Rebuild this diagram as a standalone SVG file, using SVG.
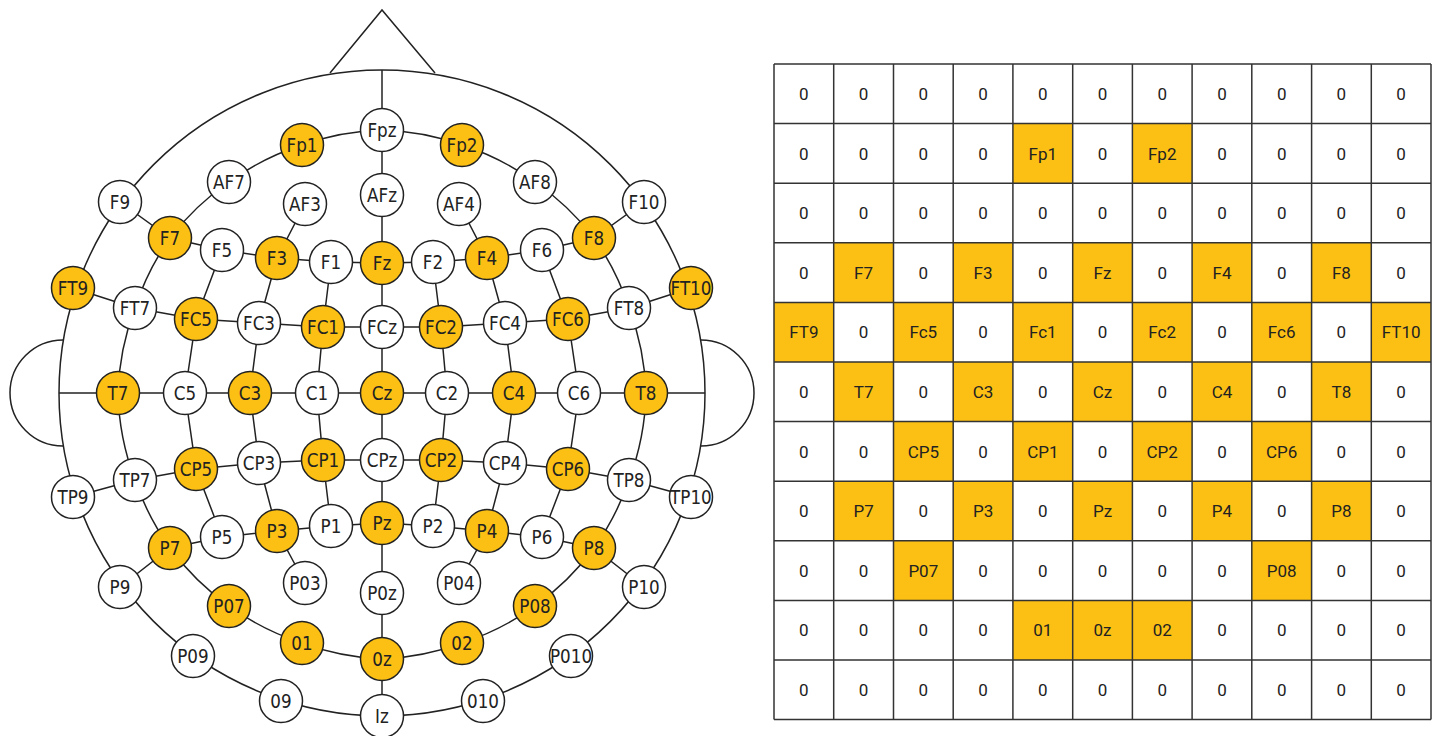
<svg xmlns="http://www.w3.org/2000/svg" width="1437" height="736" viewBox="0 0 1437 736">
<style>
.ln{fill:none;stroke:#222;stroke-width:1.5}
.node circle{fill:#fff;stroke:#222;stroke-width:1.5}
.node.hl circle{fill:#FBC013}
.node text{font-family:"DejaVu Sans",sans-serif;font-size:19.5px;fill:#222;text-anchor:middle;transform-box:fill-box;transform-origin:center;transform:scaleX(0.86)}
.cell{fill:#FBC013;stroke:none}
.grid{fill:none;stroke:#333;stroke-width:1.5}
.mt{font-family:Roboto,"Liberation Sans",sans-serif;font-size:17px;fill:#222;text-anchor:middle}
</style>
<rect width="1437" height="736" fill="#fff"/>
<g id="connectors">
<polyline class="ln" points="330,73 382,10 435,73"/>
<circle class="ln" cx="382" cy="393" r="323"/>
<path class="ln" d="M63,340 A53,53 0 1 0 63,446"/>
<path class="ln" d="M701,340 A53,53 0 1 1 701,446"/>
<path class="ln" d="M382,130 A263,263 0 0 1 462,145 A263,263 0 0 1 535,182 A263,263 0 0 1 594,238 A263,263 0 0 1 629,308 A263,263 0 0 1 646,393 A263,263 0 0 1 629,480 A263,263 0 0 1 594,548 A263,263 0 0 1 535,606 A263,263 0 0 1 462,643 A263,263 0 0 1 382,659 A263,263 0 0 1 302,643 A263,263 0 0 1 229,606 A263,263 0 0 1 170,548 A263,263 0 0 1 135,480 A263,263 0 0 1 118,393 A263,263 0 0 1 135,308 A263,263 0 0 1 170,238 A263,263 0 0 1 229,182 A263,263 0 0 1 302,145 A263,263 0 0 1 382,130"/>
<line class="ln" x1="382" y1="70" x2="382" y2="716"/>
<line class="ln" x1="59" y1="393" x2="705" y2="393"/>
<polyline class="ln" points="120,202 170,238 222,250 277,258 331,262 382,263 433,262 487,258 542,250 594,238 644,202"/>
<polyline class="ln" points="73,288 135,308 196,319 259,323 323,327 382,327 441,327 505,323 568,319 629,308 691,288"/>
<polyline class="ln" points="73,497 135,480 196,469 259,463 323,460 382,460 441,460 505,463 568,469 629,480 691,497"/>
<polyline class="ln" points="120,587 170,548 222,537 277,531 331,526 382,523 433,526 487,531 542,537 594,548 644,587"/>
<polyline class="ln" points="305,204 277,258 259,323 250,393 259,463 277,531 305,583"/>
<polyline class="ln" points="459,204 487,258 505,323 514,393 505,463 487,531 459,583"/>
<polyline class="ln" points="331,262 323,327 317,393 323,460 331,526"/>
<polyline class="ln" points="433,262 441,327 447,393 441,460 433,526"/>
<polyline class="ln" points="222,250 196,319 185,393 196,469 222,537"/>
<polyline class="ln" points="542,250 568,319 579,393 568,469 542,537"/>
</g>
<g id="n-Fpz" class="node"><circle cx="382" cy="130" r="21.5"/><text x="382" y="137">Fpz</text></g>
<g id="n-Fp1" class="node hl"><circle cx="302" cy="145" r="21.5"/><text x="302" y="152">Fp1</text></g>
<g id="n-Fp2" class="node hl"><circle cx="462" cy="145" r="21.5"/><text x="462" y="152">Fp2</text></g>
<g id="n-AF7" class="node"><circle cx="229" cy="182" r="21.5"/><text x="229" y="189">AF7</text></g>
<g id="n-AF8" class="node"><circle cx="535" cy="182" r="21.5"/><text x="535" y="189">AF8</text></g>
<g id="n-AFz" class="node"><circle cx="382" cy="195" r="21.5"/><text x="382" y="202">AFz</text></g>
<g id="n-AF3" class="node"><circle cx="305" cy="204" r="21.5"/><text x="305" y="211">AF3</text></g>
<g id="n-AF4" class="node"><circle cx="459" cy="204" r="21.5"/><text x="459" y="211">AF4</text></g>
<g id="n-F9" class="node"><circle cx="120" cy="202" r="21.5"/><text x="120" y="209">F9</text></g>
<g id="n-F10" class="node"><circle cx="644" cy="202" r="21.5"/><text x="644" y="209">F10</text></g>
<g id="n-F7" class="node hl"><circle cx="170" cy="238" r="21.5"/><text x="170" y="245">F7</text></g>
<g id="n-F8" class="node hl"><circle cx="594" cy="238" r="21.5"/><text x="594" y="245">F8</text></g>
<g id="n-F5" class="node"><circle cx="222" cy="250" r="21.5"/><text x="222" y="257">F5</text></g>
<g id="n-F6" class="node"><circle cx="542" cy="250" r="21.5"/><text x="542" y="257">F6</text></g>
<g id="n-F3" class="node hl"><circle cx="277" cy="258" r="21.5"/><text x="277" y="265">F3</text></g>
<g id="n-F4" class="node hl"><circle cx="487" cy="258" r="21.5"/><text x="487" y="265">F4</text></g>
<g id="n-F1" class="node"><circle cx="331" cy="262" r="21.5"/><text x="331" y="269">F1</text></g>
<g id="n-F2" class="node"><circle cx="433" cy="262" r="21.5"/><text x="433" y="269">F2</text></g>
<g id="n-Fz" class="node hl"><circle cx="382" cy="263" r="21.5"/><text x="382" y="270">Fz</text></g>
<g id="n-FT9" class="node hl"><circle cx="73" cy="288" r="21.5"/><text x="73" y="295">FT9</text></g>
<g id="n-FT10" class="node hl"><circle cx="691" cy="288" r="21.5"/><text x="691" y="295">FT10</text></g>
<g id="n-FT7" class="node"><circle cx="135" cy="308" r="21.5"/><text x="135" y="315">FT7</text></g>
<g id="n-FT8" class="node"><circle cx="629" cy="308" r="21.5"/><text x="629" y="315">FT8</text></g>
<g id="n-FC5" class="node hl"><circle cx="196" cy="319" r="21.5"/><text x="196" y="326">FC5</text></g>
<g id="n-FC6" class="node hl"><circle cx="568" cy="319" r="21.5"/><text x="568" y="326">FC6</text></g>
<g id="n-FC3" class="node"><circle cx="259" cy="323" r="21.5"/><text x="259" y="330">FC3</text></g>
<g id="n-FC4" class="node"><circle cx="505" cy="323" r="21.5"/><text x="505" y="330">FC4</text></g>
<g id="n-FC1" class="node hl"><circle cx="323" cy="327" r="21.5"/><text x="323" y="334">FC1</text></g>
<g id="n-FC2" class="node hl"><circle cx="441" cy="327" r="21.5"/><text x="441" y="334">FC2</text></g>
<g id="n-FCz" class="node"><circle cx="382" cy="327" r="21.5"/><text x="382" y="334">FCz</text></g>
<g id="n-T7" class="node hl"><circle cx="118" cy="393" r="21.5"/><text x="118" y="400">T7</text></g>
<g id="n-T8" class="node hl"><circle cx="646" cy="393" r="21.5"/><text x="646" y="400">T8</text></g>
<g id="n-C5" class="node"><circle cx="185" cy="393" r="21.5"/><text x="185" y="400">C5</text></g>
<g id="n-C6" class="node"><circle cx="579" cy="393" r="21.5"/><text x="579" y="400">C6</text></g>
<g id="n-C3" class="node hl"><circle cx="250" cy="393" r="21.5"/><text x="250" y="400">C3</text></g>
<g id="n-C4" class="node hl"><circle cx="514" cy="393" r="21.5"/><text x="514" y="400">C4</text></g>
<g id="n-C1" class="node"><circle cx="317" cy="393" r="21.5"/><text x="317" y="400">C1</text></g>
<g id="n-C2" class="node"><circle cx="447" cy="393" r="21.5"/><text x="447" y="400">C2</text></g>
<g id="n-Cz" class="node hl"><circle cx="382" cy="393" r="21.5"/><text x="382" y="400">Cz</text></g>
<g id="n-TP9" class="node"><circle cx="73" cy="497" r="21.5"/><text x="73" y="504">TP9</text></g>
<g id="n-TP10" class="node"><circle cx="691" cy="497" r="21.5"/><text x="691" y="504">TP10</text></g>
<g id="n-TP7" class="node"><circle cx="135" cy="480" r="21.5"/><text x="135" y="487">TP7</text></g>
<g id="n-TP8" class="node"><circle cx="629" cy="480" r="21.5"/><text x="629" y="487">TP8</text></g>
<g id="n-CP5" class="node hl"><circle cx="196" cy="469" r="21.5"/><text x="196" y="476">CP5</text></g>
<g id="n-CP6" class="node hl"><circle cx="568" cy="469" r="21.5"/><text x="568" y="476">CP6</text></g>
<g id="n-CP3" class="node"><circle cx="259" cy="463" r="21.5"/><text x="259" y="470">CP3</text></g>
<g id="n-CP4" class="node"><circle cx="505" cy="463" r="21.5"/><text x="505" y="470">CP4</text></g>
<g id="n-CP1" class="node hl"><circle cx="323" cy="460" r="21.5"/><text x="323" y="467">CP1</text></g>
<g id="n-CP2" class="node hl"><circle cx="441" cy="460" r="21.5"/><text x="441" y="467">CP2</text></g>
<g id="n-CPz" class="node"><circle cx="382" cy="460" r="21.5"/><text x="382" y="467">CPz</text></g>
<g id="n-P9" class="node"><circle cx="120" cy="587" r="21.5"/><text x="120" y="594">P9</text></g>
<g id="n-P10" class="node"><circle cx="644" cy="587" r="21.5"/><text x="644" y="594">P10</text></g>
<g id="n-P7" class="node hl"><circle cx="170" cy="548" r="21.5"/><text x="170" y="555">P7</text></g>
<g id="n-P8" class="node hl"><circle cx="594" cy="548" r="21.5"/><text x="594" y="555">P8</text></g>
<g id="n-P5" class="node"><circle cx="222" cy="537" r="21.5"/><text x="222" y="544">P5</text></g>
<g id="n-P6" class="node"><circle cx="542" cy="537" r="21.5"/><text x="542" y="544">P6</text></g>
<g id="n-P3" class="node hl"><circle cx="277" cy="531" r="21.5"/><text x="277" y="538">P3</text></g>
<g id="n-P4" class="node hl"><circle cx="487" cy="531" r="21.5"/><text x="487" y="538">P4</text></g>
<g id="n-P1" class="node"><circle cx="331" cy="526" r="21.5"/><text x="331" y="533">P1</text></g>
<g id="n-P2" class="node"><circle cx="433" cy="526" r="21.5"/><text x="433" y="533">P2</text></g>
<g id="n-Pz" class="node hl"><circle cx="382" cy="523" r="21.5"/><text x="382" y="530">Pz</text></g>
<g id="n-PO3" class="node"><circle cx="305" cy="583" r="21.5"/><text x="305" y="590">P03</text></g>
<g id="n-PO4" class="node"><circle cx="459" cy="583" r="21.5"/><text x="459" y="590">P04</text></g>
<g id="n-POz" class="node"><circle cx="382" cy="593" r="21.5"/><text x="382" y="600">P0z</text></g>
<g id="n-PO7" class="node hl"><circle cx="229" cy="606" r="21.5"/><text x="229" y="613">P07</text></g>
<g id="n-PO8" class="node hl"><circle cx="535" cy="606" r="21.5"/><text x="535" y="613">P08</text></g>
<g id="n-O1" class="node hl"><circle cx="302" cy="643" r="21.5"/><text x="302" y="650">01</text></g>
<g id="n-O2" class="node hl"><circle cx="462" cy="643" r="21.5"/><text x="462" y="650">02</text></g>
<g id="n-Oz" class="node hl"><circle cx="382" cy="659" r="21.5"/><text x="382" y="666">0z</text></g>
<g id="n-PO9" class="node"><circle cx="193" cy="656" r="21.5"/><text x="193" y="663">P09</text></g>
<g id="n-PO10" class="node"><circle cx="571" cy="656" r="21.5"/><text x="571" y="663">P010</text></g>
<g id="n-O9" class="node"><circle cx="281" cy="701" r="21.5"/><text x="281" y="708">09</text></g>
<g id="n-O10" class="node"><circle cx="483" cy="701" r="21.5"/><text x="483" y="708">010</text></g>
<g id="n-Iz" class="node"><circle cx="382" cy="716" r="21.5"/><text x="382" y="723">Iz</text></g>
<g id="matrix">
<rect class="cell" x="1012.9" y="123.6" width="59.7" height="59.6"/>
<rect class="cell" x="1132.4" y="123.6" width="59.7" height="59.6"/>
<rect class="cell" x="833.7" y="242.8" width="59.7" height="59.6"/>
<rect class="cell" x="953.2" y="242.8" width="59.7" height="59.6"/>
<rect class="cell" x="1072.7" y="242.8" width="59.7" height="59.6"/>
<rect class="cell" x="1192.1" y="242.8" width="59.7" height="59.6"/>
<rect class="cell" x="1311.6" y="242.8" width="59.7" height="59.6"/>
<rect class="cell" x="774" y="302.4" width="59.7" height="59.6"/>
<rect class="cell" x="893.5" y="302.4" width="59.7" height="59.6"/>
<rect class="cell" x="1012.9" y="302.4" width="59.7" height="59.6"/>
<rect class="cell" x="1132.4" y="302.4" width="59.7" height="59.6"/>
<rect class="cell" x="1251.8" y="302.4" width="59.7" height="59.6"/>
<rect class="cell" x="1371.3" y="302.4" width="59.7" height="59.6"/>
<rect class="cell" x="833.7" y="362" width="59.7" height="59.6"/>
<rect class="cell" x="953.2" y="362" width="59.7" height="59.6"/>
<rect class="cell" x="1072.7" y="362" width="59.7" height="59.6"/>
<rect class="cell" x="1192.1" y="362" width="59.7" height="59.6"/>
<rect class="cell" x="1311.6" y="362" width="59.7" height="59.6"/>
<rect class="cell" x="893.5" y="421.6" width="59.7" height="59.6"/>
<rect class="cell" x="1012.9" y="421.6" width="59.7" height="59.6"/>
<rect class="cell" x="1132.4" y="421.6" width="59.7" height="59.6"/>
<rect class="cell" x="1251.8" y="421.6" width="59.7" height="59.6"/>
<rect class="cell" x="833.7" y="481.2" width="59.7" height="59.6"/>
<rect class="cell" x="953.2" y="481.2" width="59.7" height="59.6"/>
<rect class="cell" x="1072.7" y="481.2" width="59.7" height="59.6"/>
<rect class="cell" x="1192.1" y="481.2" width="59.7" height="59.6"/>
<rect class="cell" x="1311.6" y="481.2" width="59.7" height="59.6"/>
<rect class="cell" x="893.5" y="540.8" width="59.7" height="59.6"/>
<rect class="cell" x="1251.8" y="540.8" width="59.7" height="59.6"/>
<rect class="cell" x="1012.9" y="600.4" width="59.7" height="59.6"/>
<rect class="cell" x="1072.7" y="600.4" width="59.7" height="59.6"/>
<rect class="cell" x="1132.4" y="600.4" width="59.7" height="59.6"/>
<path class="grid" d="M774,64V719.6M833.7,64V719.6M893.5,64V719.6M953.2,64V719.6M1012.9,64V719.6M1072.7,64V719.6M1132.4,64V719.6M1192.1,64V719.6M1251.8,64V719.6M1311.6,64V719.6M1371.3,64V719.6M1431,64V719.6M774,64H1431M774,123.6H1431M774,183.2H1431M774,242.8H1431M774,302.4H1431M774,362H1431M774,421.6H1431M774,481.2H1431M774,540.8H1431M774,600.4H1431M774,660H1431M774,719.6H1431"/>
<g class="mt">
<text x="803.9" y="100">0</text><text x="863.6" y="100">0</text><text x="923.3" y="100">0</text><text x="983.1" y="100">0</text><text x="1042.8" y="100">0</text><text x="1102.5" y="100">0</text><text x="1162.2" y="100">0</text><text x="1222" y="100">0</text><text x="1281.7" y="100">0</text><text x="1341.4" y="100">0</text><text x="1401.1" y="100">0</text>
<text x="803.9" y="159.6">0</text><text x="863.6" y="159.6">0</text><text x="923.3" y="159.6">0</text><text x="983.1" y="159.6">0</text><text x="1042.8" y="159.6">Fp1</text><text x="1102.5" y="159.6">0</text><text x="1162.2" y="159.6">Fp2</text><text x="1222" y="159.6">0</text><text x="1281.7" y="159.6">0</text><text x="1341.4" y="159.6">0</text><text x="1401.1" y="159.6">0</text>
<text x="803.9" y="219.2">0</text><text x="863.6" y="219.2">0</text><text x="923.3" y="219.2">0</text><text x="983.1" y="219.2">0</text><text x="1042.8" y="219.2">0</text><text x="1102.5" y="219.2">0</text><text x="1162.2" y="219.2">0</text><text x="1222" y="219.2">0</text><text x="1281.7" y="219.2">0</text><text x="1341.4" y="219.2">0</text><text x="1401.1" y="219.2">0</text>
<text x="803.9" y="278.8">0</text><text x="863.6" y="278.8">F7</text><text x="923.3" y="278.8">0</text><text x="983.1" y="278.8">F3</text><text x="1042.8" y="278.8">0</text><text x="1102.5" y="278.8">Fz</text><text x="1162.2" y="278.8">0</text><text x="1222" y="278.8">F4</text><text x="1281.7" y="278.8">0</text><text x="1341.4" y="278.8">F8</text><text x="1401.1" y="278.8">0</text>
<text x="803.9" y="338.4">FT9</text><text x="863.6" y="338.4">0</text><text x="923.3" y="338.4">Fc5</text><text x="983.1" y="338.4">0</text><text x="1042.8" y="338.4">Fc1</text><text x="1102.5" y="338.4">0</text><text x="1162.2" y="338.4">Fc2</text><text x="1222" y="338.4">0</text><text x="1281.7" y="338.4">Fc6</text><text x="1341.4" y="338.4">0</text><text x="1401.1" y="338.4">FT10</text>
<text x="803.9" y="398">0</text><text x="863.6" y="398">T7</text><text x="923.3" y="398">0</text><text x="983.1" y="398">C3</text><text x="1042.8" y="398">0</text><text x="1102.5" y="398">Cz</text><text x="1162.2" y="398">0</text><text x="1222" y="398">C4</text><text x="1281.7" y="398">0</text><text x="1341.4" y="398">T8</text><text x="1401.1" y="398">0</text>
<text x="803.9" y="457.6">0</text><text x="863.6" y="457.6">0</text><text x="923.3" y="457.6">CP5</text><text x="983.1" y="457.6">0</text><text x="1042.8" y="457.6">CP1</text><text x="1102.5" y="457.6">0</text><text x="1162.2" y="457.6">CP2</text><text x="1222" y="457.6">0</text><text x="1281.7" y="457.6">CP6</text><text x="1341.4" y="457.6">0</text><text x="1401.1" y="457.6">0</text>
<text x="803.9" y="517.2">0</text><text x="863.6" y="517.2">P7</text><text x="923.3" y="517.2">0</text><text x="983.1" y="517.2">P3</text><text x="1042.8" y="517.2">0</text><text x="1102.5" y="517.2">Pz</text><text x="1162.2" y="517.2">0</text><text x="1222" y="517.2">P4</text><text x="1281.7" y="517.2">0</text><text x="1341.4" y="517.2">P8</text><text x="1401.1" y="517.2">0</text>
<text x="803.9" y="576.8">0</text><text x="863.6" y="576.8">0</text><text x="923.3" y="576.8">P07</text><text x="983.1" y="576.8">0</text><text x="1042.8" y="576.8">0</text><text x="1102.5" y="576.8">0</text><text x="1162.2" y="576.8">0</text><text x="1222" y="576.8">0</text><text x="1281.7" y="576.8">P08</text><text x="1341.4" y="576.8">0</text><text x="1401.1" y="576.8">0</text>
<text x="803.9" y="636.4">0</text><text x="863.6" y="636.4">0</text><text x="923.3" y="636.4">0</text><text x="983.1" y="636.4">0</text><text x="1042.8" y="636.4">01</text><text x="1102.5" y="636.4">0z</text><text x="1162.2" y="636.4">02</text><text x="1222" y="636.4">0</text><text x="1281.7" y="636.4">0</text><text x="1341.4" y="636.4">0</text><text x="1401.1" y="636.4">0</text>
<text x="803.9" y="696">0</text><text x="863.6" y="696">0</text><text x="923.3" y="696">0</text><text x="983.1" y="696">0</text><text x="1042.8" y="696">0</text><text x="1102.5" y="696">0</text><text x="1162.2" y="696">0</text><text x="1222" y="696">0</text><text x="1281.7" y="696">0</text><text x="1341.4" y="696">0</text><text x="1401.1" y="696">0</text>
</g>
</g>
</svg>
